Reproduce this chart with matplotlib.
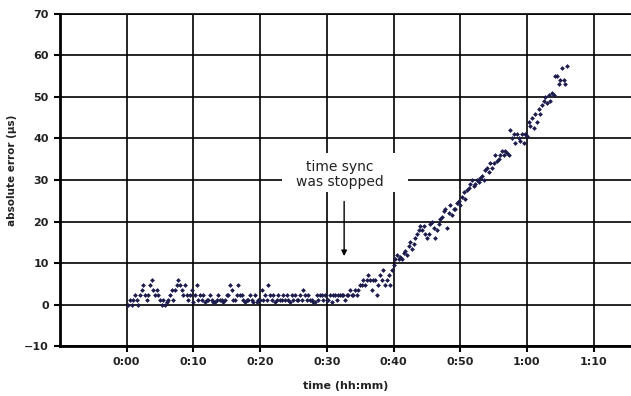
import numpy as np
import matplotlib
matplotlib.use("Agg")
import matplotlib.pyplot as plt
from matplotlib.patches import Rectangle

plt.rcParams['font.family'] = ['DejaVu Sans']

# sampling every 15 s (minutes)
step_min = 0.25
abs_error_us = [
    0, 1.2, 0, 1.2,      2.4, 1.2, 0, 2.4,    3.6, 4.8, 2.4, 1.2,   2.4, 4.8, 6, 3.6,
    2.4, 3.6, 2.4, 1.2,  0, 1.2, 0, 0.5,      1.2, 2.4, 3.6, 1.2,   3.6, 4.8, 6, 4.8,
    3.6, 2.4, 4.8, 2.4,  1.2, 2.4, 3.6, 0.5,  2.4, 4.8, 1.2, 2.4,   1.2, 2.4, 0.5, 1.2,
    1.2, 2.4, 1.2, 0.5,  0.5, 1.2, 2.4, 1.2,  1.2, 0.5, 1.2, 2.4,   2.4, 4.8, 3.6, 1.2,
    1.2, 2.4, 4.8, 2.4,  2.4, 1.2, 0.5, 1.2,  1.2, 2.4, 1.2, 0.5,   2.4, 0.5, 1.2, 1.2,
    3.6, 1.2, 2.4, 1.2,  4.8, 2.4, 1.2, 2.4,  0.5, 1.2, 2.4, 1.2,   1.2, 2.4, 1.2, 2.4,
    1.2, 0.5, 2.4, 1.2,  2.4, 1.2, 1.2, 2.4,  1.2, 3.6, 2.4, 1.2,   2.4, 1.2, 1.2, 0.5,
    0.5, 2.4, 1.2, 2.4,  2.4, 1.2, 2.4, 1.2,  1.2, 2.4, 0.5, 2.4,   2.4, 1.2, 2.4, 2.4,
    2.4, 2.4, 1.2, 2.4,  2.4, 3.6, 2.4, 2.4,  3.6, 2.4, 3.6, 4.8,   4.8, 6, 4.8, 6,
    7.2, 6, 3.6, 6,      6, 2.4, 4.8, 7.2,    6, 8.4, 4.8, 6,       7.2, 4.8, 8.4, 9.6,
    11, 12, 11, 11.5,    11, 12.5, 13, 12,    14, 15, 13.5, 14.5,   16, 17, 18, 19,
    18, 19, 17, 16,      17, 19.5, 20, 18.5,  16, 18, 19.5, 20.5,   21, 22.5, 23, 18.5,
    22, 24, 21.5, 23,    23, 24.5, 25, 24,    26, 27, 25.5, 27.5,   28, 29, 30, 28.5,
    29, 30, 29.5, 30.5,  31, 30, 32.5, 33,    32, 34, 33, 34,       36, 34.5, 35, 36,
    37, 36, 37, 36.5,    36, 42, 40, 41,      39, 41, 40, 39.5,     41, 39, 41, 40.5,
    44, 43, 45, 42.5,    46, 44, 47, 46,      48, 49, 50, 48.5,     50.5, 49, 51, 50.5,
    55, 55, 53, 54,      57, 54, 53, 57.5,
]
time_min = np.arange(1, len(abs_error_us) + 1) * step_min

x_ticks = [0, 10, 20, 30, 40, 50, 60, 70]
x_tick_labels = ["0:00", "0:10", "0:20", "0:30", "0:40", "0:50", "1:00", "1:10"]
y_ticks = [-10, 0, 10, 20, 30, 40, 50, 60, 70]

fig = plt.figure(figsize=(6.31, 3.96), dpi=100)
ax = fig.add_axes([0.095, 0.126, 0.905, 0.839])

ax.scatter(time_min, abs_error_us, marker='D', s=6, color='#1c1c4c',
           linewidths=0, zorder=3)

ax.set_xlim(-10, 75.6)
ax.set_ylim(-10, 70)
ax.set_xticks(x_ticks)
ax.set_xticklabels(x_tick_labels)
ax.set_yticks(y_ticks)
ax.grid(True, color='black', linewidth=1.2)
ax.set_axisbelow(True)

for s in ['left', 'bottom']:
    ax.spines[s].set_linewidth(2.0)
ax.spines['right'].set_visible(False)
ax.spines['top'].set_linewidth(1.2)
ax.tick_params(direction='out', length=4, width=1.5, labelsize=8, pad=4)
for lab in ax.get_xticklabels() + ax.get_yticklabels():
    lab.set_fontweight('bold')
    lab.set_color('#222222')

ax.set_xlabel('time (hh:mm)', fontsize=8, fontweight='bold', labelpad=10,
              color='#222222')
ax.set_ylabel('absolute error (µs)', fontsize=7.5, fontweight='bold',
              color='#222222')
ax.yaxis.set_label_coords(-0.075, 0.53)

# annotation
ax.add_patch(Rectangle((23.3, 27), 18.8, 9.6, facecolor='white',
                       edgecolor='none', zorder=2))
ax.text(32.0, 31.3, 'time sync\nwas stopped', ha='center', va='center',
        fontsize=10, zorder=4, linespacing=1.1, color='#222222')
ax.annotate('', xy=(32.6, 11.0), xytext=(32.6, 25.5),
            arrowprops=dict(arrowstyle='-|>', color='black', lw=1.0,
                            mutation_scale=8), zorder=4)

fig.savefig('out.png', dpi=100)
